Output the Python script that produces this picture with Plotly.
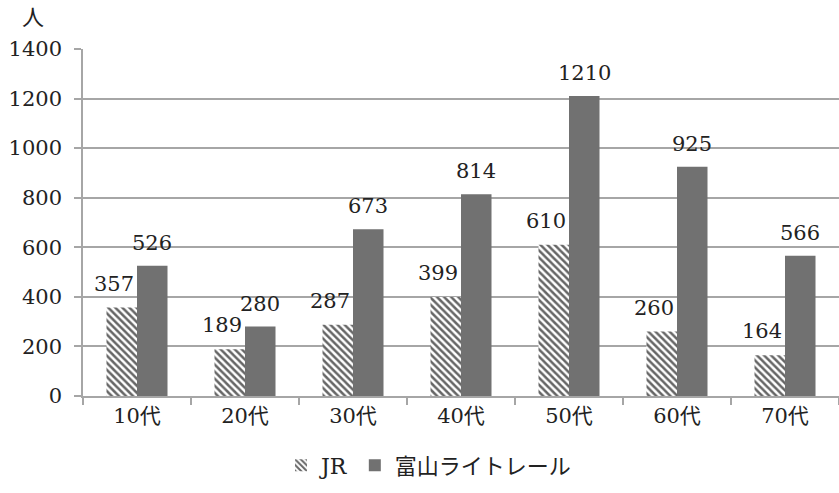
import plotly.graph_objects as go

categories = ["10代", "20代", "30代", "40代", "50代", "60代", "70代"]
jr_values = [357, 189, 287, 399, 610, 260, 164]
toyama_values = [526, 280, 673, 814, 1210, 925, 566]
series_names = ["JR", "富山ライトレール"]
y_ticks = [0, 200, 400, 600, 800, 1000, 1200, 1400]

FONT = "'DejaVu Serif', 'Noto Sans CJK JP', serif"
TXT = "#222222"

fig = go.Figure()
fig.add_trace(go.Bar(
    x=categories, y=jr_values, name=series_names[0],
    marker=dict(color="white", line=dict(width=0),
                pattern=dict(shape="\\", fgcolor="#666666", bgcolor="white",
                             size=5, solidity=0.5, fillmode="overlay", fgopacity=1)),
))
fig.add_trace(go.Bar(
    x=categories, y=toyama_values, name=series_names[1],
    marker=dict(color="#717171", line=dict(width=0)),
))

for c, v in zip(categories, jr_values):
    fig.add_annotation(x=c, y=v, xref="x", yref="y", text=str(v), showarrow=False,
                       xshift=-23, yshift=24, font=dict(family=FONT, size=21, color=TXT))
for c, v in zip(categories, toyama_values):
    fig.add_annotation(x=c, y=v, xref="x", yref="y", text=str(v), showarrow=False,
                       xshift=15, yshift=23, font=dict(family=FONT, size=21, color=TXT))

fig.add_annotation(x=(33 - 83) / 756, y=1 + (49 - 18) / 347, xref="paper", yref="paper",
                   text="人", showarrow=False, xanchor="center", yanchor="middle",
                   font=dict(family=FONT, size=22, color=TXT))

fig.update_layout(
    width=839, height=493,
    margin=dict(l=83, r=0, t=49, b=97),
    paper_bgcolor="white", plot_bgcolor="white",
    barmode="group", bargap=0.435, bargroupgap=0,
    font=dict(family=FONT, size=20, color=TXT),
    showlegend=True,
    legend=dict(orientation="h", x=(281 - 83) / 756, xanchor="left", y=-0.2, yanchor="middle",
                font=dict(family=FONT, size=22, color=TXT), itemwidth=30,
                traceorder="normal"),
    xaxis=dict(showgrid=False, showline=True, linecolor="#a6a6a6", linewidth=1.5,
               ticks="outside", tickson="boundaries", ticklen=7, tickcolor="#a6a6a6",
               tickwidth=1.5, tickfont=dict(family=FONT, size=21, color=TXT)),
    yaxis=dict(range=[0, 1400], tickvals=y_ticks, showgrid=True, gridcolor="#a6a6a6",
               gridwidth=1.5, showline=True, linecolor="#a6a6a6", linewidth=1.5,
               ticks="outside", ticklen=7, tickcolor="#a6a6a6", tickwidth=1.5,
               ticklabelstandoff=8, zeroline=False,
               tickfont=dict(family=FONT, size=21, color=TXT)),
)

fig.write_html("out.html")
